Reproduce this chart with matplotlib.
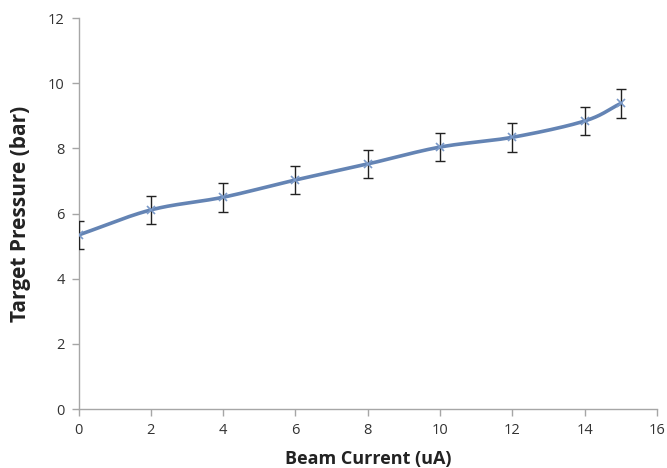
import numpy as np
import matplotlib
matplotlib.use("Agg")
import matplotlib.pyplot as plt

beam_current = [0, 2, 4, 6, 8, 10, 12, 14, 15]
pressure = [5.34, 6.11, 6.50, 7.03, 7.52, 8.04, 8.34, 8.84, 9.38]
pressure_err = [0.43, 0.44, 0.44, 0.44, 0.44, 0.44, 0.44, 0.44, 0.44]
x_ticks = [0, 2, 4, 6, 8, 10, 12, 14, 16]
y_ticks = [0, 2, 4, 6, 8, 10, 12]

def catmull_rom(x, y, n=30):
    x = np.asarray(x, float); y = np.asarray(y, float)
    px = np.concatenate([[2*x[0]-x[1]], x, [2*x[-1]-x[-2]]])
    py = np.concatenate([[2*y[0]-y[1]], y, [2*y[-1]-y[-2]]])
    xs, ys = [], []
    for i in range(1, len(px)-2):
        t = np.linspace(0, 1, n, endpoint=False)
        for arr, out in ((px, xs), (py, ys)):
            p0, p1, p2, p3 = arr[i-1], arr[i], arr[i+1], arr[i+2]
            out.extend(0.5*((2*p1) + (-p0+p2)*t + (2*p0-5*p1+4*p2-p3)*t**2 + (-p0+3*p1-3*p2+p3)*t**3))
    xs.append(x[-1]); ys.append(y[-1])
    return np.array(xs), np.array(ys)

plt.rcParams['font.family'] = ['Open Sans', 'DejaVu Sans']
fig = plt.figure(figsize=(6.67, 4.68), dpi=100)
ax = fig.add_axes([0.1177, 0.126, 0.8673, 0.8355])

sx, sy = catmull_rom(beam_current, pressure)
ax.plot(sx, sy, color='#6484b4', lw=2.6, solid_capstyle='round', zorder=2)
ax.errorbar(beam_current, pressure, yerr=pressure_err, fmt='none', ecolor='#222222',
            elinewidth=1.0, capsize=3.5, capthick=1.0, zorder=3)
ax.plot(beam_current, pressure, linestyle='none', marker='x', color='#7b9ac8',
        markersize=6, markeredgewidth=1.2, zorder=4)

ax.set_xlim(0, 16)
ax.set_ylim(0, 12)
ax.set_xticks(x_ticks)
ax.set_yticks(y_ticks)
for s in ['top', 'right']:
    ax.spines[s].set_visible(False)
for s in ['left', 'bottom']:
    ax.spines[s].set_color('#a6a6a6')
    ax.spines[s].set_linewidth(1.0)
ax.tick_params(direction='out', length=5, width=1, color='#a6a6a6',
               labelsize=10.5, labelcolor='#333333', pad=5)
ax.set_xlabel('Beam Current (uA)', fontsize=13, fontweight='bold', color='#222222', labelpad=9)
ax.set_ylabel('Target Pressure (bar)', fontsize=15, fontweight='bold', color='#222222', labelpad=12)

fig.savefig('out.png', dpi=100)
